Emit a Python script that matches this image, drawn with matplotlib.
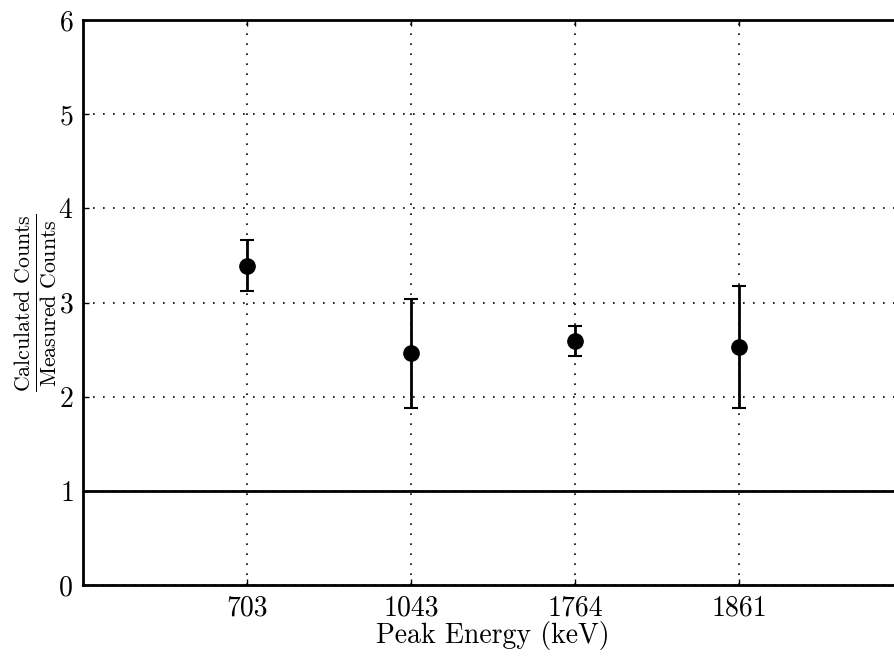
import matplotlib
matplotlib.use("Agg")
import matplotlib.pyplot as plt

# Peak data: calculated / measured count ratios with uncertainties
peak_labels = ["703", "1043", "1764", "1861"]
ratios = [3.39, 2.46, 2.59, 2.53]
ratio_err = [0.27, 0.58, 0.16, 0.65]
y_ticks = [0, 1, 2, 3, 4, 5, 6]

plt.rcParams["font.family"] = "serif"
plt.rcParams["font.serif"] = ["cmr10", "DejaVu Serif"]
plt.rcParams["mathtext.fontset"] = "cm"
plt.rcParams["axes.formatter.use_mathtext"] = True

fig = plt.figure(figsize=(8.94, 6.56), dpi=100)
ax = fig.add_axes([83 / 894, 71 / 656, 820 / 894, 565 / 656])

xpos = list(range(1, len(peak_labels) + 1))
ax.errorbar(xpos, ratios, yerr=ratio_err, fmt="o", color="black",
            markersize=11, elinewidth=2, capsize=5, capthick=1.5, zorder=3)
ax.axhline(1, color="black", linewidth=2, zorder=2)

ax.set_xlim(0, len(peak_labels) + 1)
ax.set_ylim(0, 6)
ax.set_xticks(xpos)
ax.set_xticklabels(peak_labels)
ax.set_yticks(y_ticks)

ax.grid(True, color="black", linestyle=(0, (1, 5)), linewidth=1.2)
ax.tick_params(direction="in", length=4, width=1, labelsize=20,
               top=True, right=True, pad=7)
for s in ax.spines.values():
    s.set_linewidth(2)

ax.set_xlabel("Peak Energy (keV)", fontsize=20, labelpad=0)
ax.set_ylabel(r"$\frac{\mathrm{Calculated\ Counts}}{\mathrm{Measured\ Counts}}$",
              fontsize=22.5, labelpad=0)

fig.savefig("out.png", dpi=100)
